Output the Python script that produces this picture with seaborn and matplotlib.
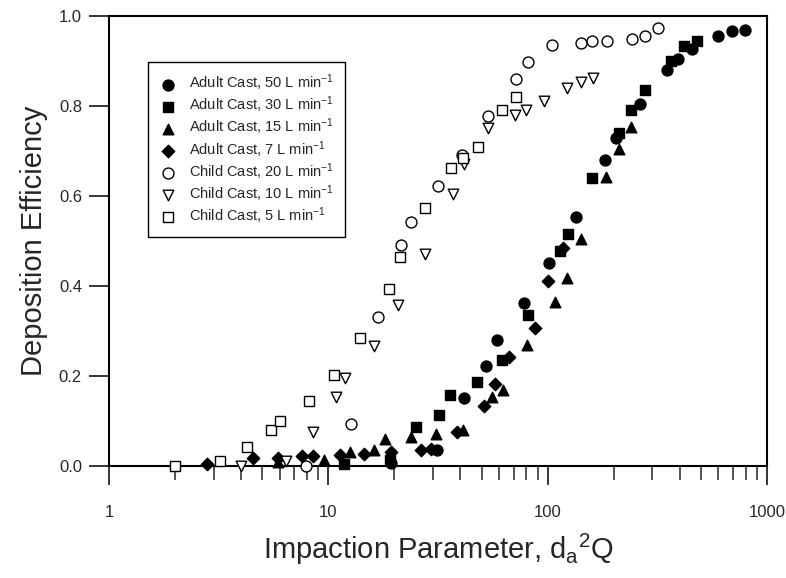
import numpy as np
import pandas as pd
import seaborn as sns
import matplotlib
matplotlib.use('Agg')
import matplotlib.pyplot as plt
from matplotlib.ticker import LogLocator, NullFormatter

# data: impaction parameter (x) vs deposition efficiency (y)
adult50_x = [19.4, 31.4, 41.4, 52.6, 58.9, 78.0, 101, 134.6, 182, 204, 264, 351, 395, 456, 600, 692, 791]
adult50_y = [0.006, 0.036, 0.150, 0.223, 0.279, 0.361, 0.450, 0.552, 0.680, 0.728, 0.805, 0.880, 0.904, 0.927, 0.956, 0.967, 0.969]

adult30_x = [11.8, 19.05, 25.0, 32.0, 35.8, 47.4, 61.7, 81.1, 114, 124, 160, 212, 239, 277, 365, 417, 479]
adult30_y = [0.004, 0.013, 0.087, 0.113, 0.158, 0.186, 0.236, 0.336, 0.478, 0.516, 0.639, 0.739, 0.791, 0.836, 0.900, 0.934, 0.945]

adult15_x = [5.9, 9.56, 12.6, 16.2, 18.1, 23.9, 31.0, 41.3, 55.7, 62.8, 80.8, 107.7, 122, 141.5, 184, 212, 239]
adult15_y = [0.008, 0.012, 0.030, 0.036, 0.060, 0.064, 0.070, 0.080, 0.153, 0.169, 0.268, 0.364, 0.417, 0.504, 0.641, 0.704, 0.754]

adult7_x = [2.8, 4.53, 5.89, 7.59, 8.48, 11.3, 14.6, 19.4, 26.5, 29.5, 38.5, 51.2, 57.5, 66.8, 87.5, 100.7, 118]
adult7_y = [0.005, 0.017, 0.018, 0.021, 0.022, 0.024, 0.026, 0.030, 0.036, 0.038, 0.076, 0.132, 0.183, 0.242, 0.306, 0.411, 0.484]

child20_x = [7.94, 12.7, 16.9, 21.5, 23.9, 31.7, 40.5, 53.6, 71.6, 81, 105, 141.5, 160, 186, 242, 278, 320]
child20_y = [0.000, 0.092, 0.330, 0.490, 0.541, 0.623, 0.690, 0.778, 0.860, 0.897, 0.935, 0.939, 0.945, 0.945, 0.949, 0.956, 0.973]

child10_x = [4.0, 6.43, 8.48, 10.8, 11.9, 16.2, 20.8, 27.5, 37.2, 41.5, 53.6, 71, 80, 96, 122, 141.5, 161]
child10_y = [0.000, 0.011, 0.076, 0.154, 0.196, 0.267, 0.358, 0.470, 0.604, 0.670, 0.750, 0.780, 0.790, 0.810, 0.839, 0.854, 0.862]

child5_x = [2.0, 3.2, 4.24, 5.45, 5.99, 8.13, 10.6, 14.0, 18.9, 21.3, 27.5, 36.4, 41.2, 47.9, 62, 71.6]
child5_y = [0.000, 0.010, 0.042, 0.080, 0.100, 0.144, 0.202, 0.284, 0.393, 0.465, 0.574, 0.662, 0.685, 0.708, 0.790, 0.820]

sns.set_style('white')
plt.rcParams['font.family'] = ['Liberation Sans', 'DejaVu Sans']
plt.rcParams['mathtext.default'] = 'regular'

series = [
    ('Adult Cast, 50 L min$^{-1}$', adult50_x, adult50_y, 'o', True),
    ('Adult Cast, 30 L min$^{-1}$', adult30_x, adult30_y, 's', True),
    ('Adult Cast, 15 L min$^{-1}$', adult15_x, adult15_y, '^', True),
    ('Adult Cast, 7 L min$^{-1}$', adult7_x, adult7_y, 'D', True),
    ('Child Cast, 20 L min$^{-1}$', child20_x, child20_y, 'o', False),
    ('Child Cast, 10 L min$^{-1}$', child10_x, child10_y, 'v', False),
    ('Child Cast, 5 L min$^{-1}$', child5_x, child5_y, 's', False),
]
sizes = {'o': 62, 's': 48, '^': 58, 'D': 40, 'v': 58}

fig = plt.figure(figsize=(7.86, 5.78), dpi=100)
ax = fig.add_axes([0.1387, 0.194, 0.837, 0.7785])

for label, xs, ys, mk, filled in series:
    df = pd.DataFrame({'x': xs, 'y': ys})
    sns.scatterplot(data=df, x='x', y='y', ax=ax, marker=mk, s=sizes[mk],
                    color='black' if filled else 'white', edgecolor='black',
                    linewidth=1.0, label=label, clip_on=False, zorder=3)

ax.set_xscale('log')
ax.set_xlim(1, 1000)
ax.set_ylim(0, 1.0)
ax.set_xticks([1, 10, 100, 1000])
ax.set_xticklabels(['1', '10', '100', '1000'])
ax.xaxis.set_minor_locator(LogLocator(base=10, subs=np.arange(2, 10)))
ax.xaxis.set_minor_formatter(NullFormatter())
ax.set_yticks([0.0, 0.2, 0.4, 0.6, 0.8, 1.0])
ax.set_yticklabels(['0.0', '0.2', '0.4', '0.6', '0.8', '1.0'])

for sp in ax.spines.values():
    sp.set_color('black')
    sp.set_linewidth(1.5)

ax.tick_params(axis='x', which='major', direction='out', length=14, width=1.3,
               labelsize=12, pad=14, bottom=True, top=False)
ax.tick_params(axis='x', which='minor', direction='out', length=10, width=1.1,
               bottom=True, top=False)
ax.tick_params(axis='y', which='major', direction='out', length=14.5, width=1.3,
               labelsize=12, pad=5, left=True, right=False)

ax.set_xlabel('Impaction Parameter, d$_a$$^2$Q', fontsize=21, labelpad=9)
ax.set_ylabel('Deposition Efficiency', fontsize=21, labelpad=8)

leg = ax.legend(loc='upper left', bbox_to_anchor=(0.059, 0.898), fontsize=10.5,
                frameon=True, fancybox=False, edgecolor='black',
                labelspacing=0.1, handletextpad=0.8, borderpad=0.75,
                handlelength=1.3, borderaxespad=0)
leg.get_frame().set_linewidth(1.0)
leg.get_frame().set_alpha(1)

fig.savefig('out.png', dpi=100)
